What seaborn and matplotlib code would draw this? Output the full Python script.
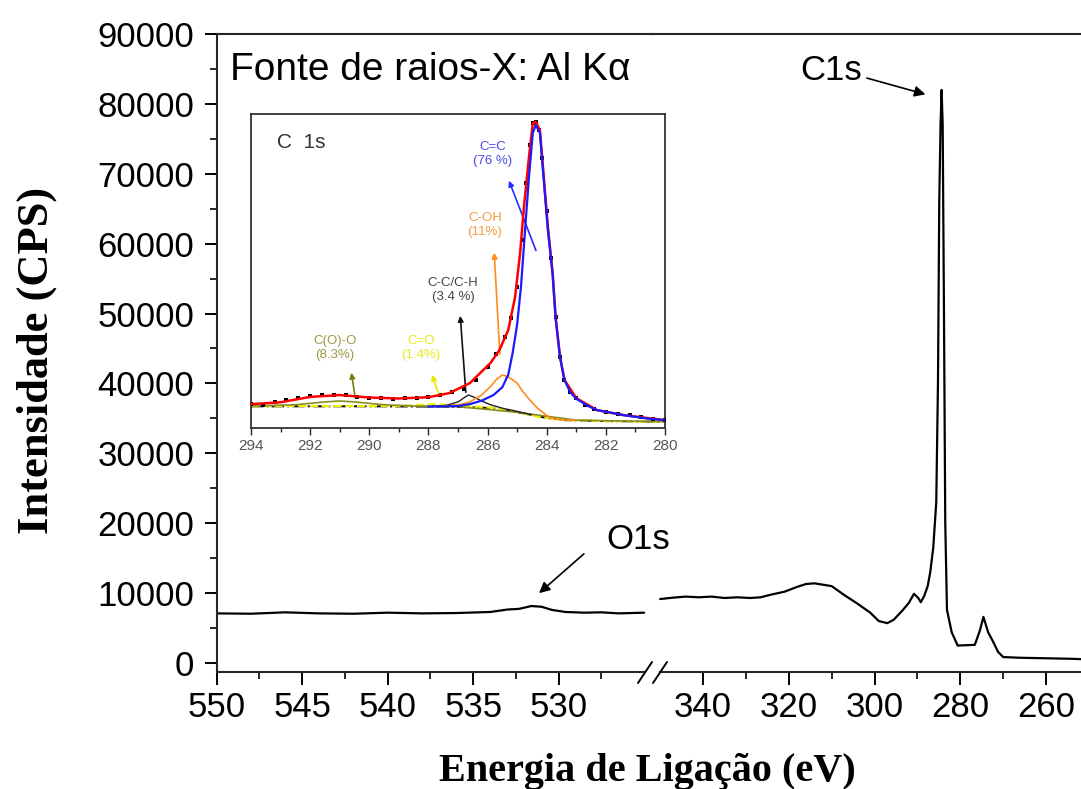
import matplotlib
matplotlib.use("Agg")
import matplotlib.pyplot as plt
import seaborn as sns
from matplotlib.lines import Line2D

# ---- main survey spectrum ----
# left segment, O 1s region
o_ev = [550, 548, 546, 544, 542, 540, 538, 536, 534, 533, 532.3, 531.6, 531.0, 530.4, 529.6, 528.5, 527.5, 526.5, 525.0]
o_cps = [7100, 7050, 7250, 7100, 7050, 7200, 7100, 7150, 7300, 7650, 7750, 8150, 8050, 7600, 7300, 7200, 7250, 7100, 7200]

# right segment, C 1s region
c_ev = [350, 347, 344, 341, 338, 335, 332, 329, 326.6, 324, 321, 318, 316, 314, 312, 310, 307, 304, 301, 299,
        297, 295.5, 293.5, 292, 290.8, 289.8, 289.2, 288.4, 287.6, 287.0, 286.3, 285.6, 285.2, 284.9, 284.6,
        284.35, 284.1, 283.8, 283.5, 283.1, 282.0, 280.6, 278.5, 276.6, 275.4, 274.6, 273.5, 272.3, 271.2,
        270.0, 266, 262, 258, 254, 251.8]
c_cps = [9150, 9350, 9500, 9400, 9500, 9300, 9400, 9300, 9400, 9800, 10200, 10900, 11300, 11400, 11200, 11000,
         9700, 8500, 7200, 6000, 5700, 6200, 7500, 8600, 9900, 9300, 8700, 9600, 11000, 13000, 16500, 23000,
         40000, 66000, 77000, 82000, 77000, 50000, 20000, 7600, 4400, 2500, 2550, 2600, 4700, 6600, 4400,
         3000, 1600, 850, 750, 700, 650, 600, 550]

y_ticks = [0, 10000, 20000, 30000, 40000, 50000, 60000, 70000, 80000, 90000]
left_xticks = [550, 545, 540, 535, 530]
right_xticks = [340, 320, 300, 280, 260]

# ---- inset: C 1s high resolution (arbitrary units, 0-100) ----
exp_ev = [294.0, 293.6, 293.2, 292.8, 292.4, 292.0, 291.6, 291.2, 290.8, 290.4, 290.0, 289.6, 289.2, 288.8,
          288.4, 288.0, 287.6, 287.2, 286.8, 286.4, 286.0, 285.7, 285.4, 285.2, 285.0, 284.85, 284.7, 284.55,
          284.45, 284.35, 284.25, 284.15, 284.0, 283.85, 283.7, 283.55, 283.4, 283.2, 283.0, 282.7, 282.4,
          282.0, 281.6, 281.2, 280.8, 280.4, 280.0]
exp_int = [7.6, 7.4, 8.3, 9.0, 9.6, 10.1, 10.5, 10.6, 10.4, 10.0, 9.6, 9.4, 9.3, 9.4, 9.6, 10.0, 10.6, 11.4,
           12.5, 15.3, 19.5, 23.5, 29.0, 35.0, 45.0, 60.0, 78.0, 90.0, 97.0, 97.5, 95.0, 86.0, 69.0, 54.0,
           35.4, 22.6, 15.3, 11.5, 9.5, 7.2, 6.0, 5.0, 4.5, 4.0, 3.4, 2.9, 2.5]

fit_ev = [294.0, 293.0, 292.0, 291.0, 290.0, 289.0, 288.0, 287.3, 286.6, 285.9, 285.6, 285.3, 285.07, 284.9,
          284.77, 284.6, 284.47, 284.37, 284.23, 284.1, 283.96, 283.8, 283.7, 283.55, 283.4, 283.0, 282.3,
          281.4, 280.0]
fit_int = [7.6, 8.2, 9.9, 10.5, 9.7, 9.4, 9.8, 11.1, 14.3, 20.7, 24.8, 31.2, 41.7, 55.7, 70.4, 86.3, 97.1,
           97.5, 94.9, 80.0, 64.0, 49.4, 35.4, 22.6, 15.3, 9.5, 5.7, 4.1, 2.5]

bg_ev = [294, 290, 287.5, 286.5, 285.8, 285.2, 284.6, 284.0, 283.4, 282, 280]
bg_int = [6.9, 6.9, 6.8, 6.6, 6.3, 5.4, 4.3, 3.2, 2.5, 2.2, 2.0]

co_ev = [294, 291, 289, 288.4, 287.8, 287.2, 286.5, 285.8, 285.0, 284.3, 283.5, 282, 280]
co_int = [7.0, 7.0, 7.0, 7.3, 7.6, 7.3, 6.9, 6.4, 5.1, 3.6, 2.6, 2.2, 2.0]

coo_ev = [294, 292.5, 291.5, 291.0, 290.5, 289.5, 288.5, 287, 285, 283, 280]
coo_int = [7.0, 7.4, 8.3, 8.6, 8.3, 7.4, 7.0, 6.8, 5.0, 2.5, 2.0]

cch_ev = [288.0, 287.4, 287.0, 286.8, 286.65, 286.5, 286.2, 285.9, 285.5, 285.0, 284.5]
cch_int = [6.8, 7.2, 8.3, 9.6, 10.5, 10.0, 8.6, 7.4, 6.3, 5.3, 4.2]

coh_ev = [287.6, 287.0, 286.6, 286.2, 285.9, 285.7, 285.5, 285.3, 285.0, 284.8, 284.57, 284.3, 284.1, 283.9,
          283.5, 283.0]
coh_int = [6.8, 7.3, 8.3, 10.5, 13.2, 15.5, 16.9, 16.3, 14.3, 11.5, 8.9, 6.2, 4.8, 3.2, 2.6, 2.4]

cc_ev = [288, 287.0, 286.6, 286.2, 285.8, 285.5, 285.3, 285.15, 285.0, 284.87, 284.74, 284.6, 284.47, 284.37,
         284.23, 284.1, 283.96, 283.8, 283.7, 283.55, 283.4, 283.2, 283.0, 282.6, 282.3, 281.4, 280.6, 280]
cc_int = [6.8, 7.0, 7.6, 8.7, 10.5, 13, 17, 24, 33, 45, 62, 80, 94, 96.5, 94, 79, 63, 49, 35, 22.6, 15.3,
          11.3, 9.3, 7.0, 5.7, 4.1, 3.0, 2.5]
inset_xticks = [294, 292, 290, 288, 286, 284, 282, 280]

sns.set_theme(style="ticks")
plt.rcParams["font.family"] = ["Liberation Sans", "DejaVu Sans"]
plt.rcParams["axes.linewidth"] = 1.5
plt.rcParams["text.color"] = "black"

W, H = 1081, 789
fig = plt.figure(figsize=(W / 100, H / 100), dpi=100)


def fx(px):
    return px / W


def fy(py):
    return 1 - py / H


# main axes: broken x axis
ax1 = fig.add_axes([fx(216.7), fy(671.7), fx(652) - fx(216.7), fy(34) - fy(671.7)])
ax2 = fig.add_axes([fx(652), fy(671.7), 1 - fx(652), fy(34) - fy(671.7)], sharey=ax1)
ax1.patch.set_visible(False)
ax2.patch.set_visible(False)

sns.lineplot(x=o_ev, y=o_cps, ax=ax1, color="black", lw=1.6, sort=False, estimator=None)
sns.lineplot(x=c_ev, y=c_cps, ax=ax2, color="black", lw=1.6, sort=False, estimator=None)

ax1.set_xlim(550, 524.54)
ax2.set_xlim(351.9, 251.84)
ax1.set_ylim(-1245, 90000)

ax1.spines["right"].set_visible(False)
ax2.spines["left"].set_visible(False)
ax2.spines["right"].set_visible(False)
ax1.spines["bottom"].set_bounds(550, 524.95)
ax2.spines["bottom"].set_bounds(350.1, 251.84)

ax1.set_yticks(y_ticks)
ax1.set_yticklabels([str(v) for v in y_ticks])
ax1.set_yticks([v + 5000 for v in y_ticks[:-1]], minor=True)
ax1.set_xticks(left_xticks)
ax1.set_xticklabels([str(v) for v in left_xticks])
ax1.set_xticks([v - 2.5 for v in left_xticks], minor=True)
ax2.set_xticks(right_xticks)
ax2.set_xticklabels([str(v) for v in right_xticks])
ax2.set_xticks([v + 10 for v in right_xticks[1:]], minor=True)
ax2.tick_params(axis="y", left=False, labelleft=False, which="both")

for ax in (ax1, ax2):
    ax.tick_params(which="major", direction="out", length=9, width=1.4, labelsize=25, colors="black", pad=5)
    ax.tick_params(which="minor", direction="out", length=5, width=1.4)
    ax.set_xlabel("")
    ax.set_ylabel("")
ax1.tick_params(axis="y", which="major", pad=7)

# axis break marks
for x0 in (638, 653):
    fig.add_artist(Line2D([fx(x0), fx(x0 + 14)], [fy(683), fy(662)], color="black", lw=1.4))

fig.text(fx(37), fy(360), "Intensidade (CPS)", rotation=90, ha="center", va="center",
         fontsize=32, fontweight="bold", family="Liberation Serif")
fig.text(fx(647), fy(772), "Energia de Ligação (eV)", ha="center", va="center",
         fontsize=29, fontweight="bold", family="Liberation Serif")
fig.text(fx(230), fy(70), "Fonte de raios-X: Al Kα", ha="left", va="center", fontsize=28)

# peak labels
ax2.text(310.1, 84835, "C1s", ha="center", va="center", fontsize=25)
ax2.annotate("", xy=(287.5, 81260), xytext=(302.4, 83800),
             arrowprops=dict(arrowstyle="-|>", color="black", lw=1.2, mutation_scale=16))
ax1.text(525.36, 17600, "O1s", ha="center", va="center", fontsize=25)
ax1.annotate("", xy=(531.27, 9730), xytext=(528.4, 15880),
             arrowprops=dict(arrowstyle="-|>", color="black", lw=1.2, mutation_scale=16))

# ---- inset ----
axi = fig.add_axes([fx(251), fy(428), fx(665) - fx(251), fy(114) - fy(428)])
sns.lineplot(x=bg_ev, y=bg_int, ax=axi, color="black", lw=1.4, linestyle="-.", sort=False, estimator=None)
sns.lineplot(x=co_ev, y=co_int, ax=axi, color="#f0f000", lw=1.6, linestyle="--", sort=False, estimator=None)
sns.lineplot(x=coo_ev, y=coo_int, ax=axi, color="#8c8c20", lw=1.2, sort=False, estimator=None)
sns.lineplot(x=cch_ev, y=cch_int, ax=axi, color="#202020", lw=1.0, sort=False, estimator=None)
sns.lineplot(x=coh_ev, y=coh_int, ax=axi, color="#ff8c1a", lw=1.2, sort=False, estimator=None)
sns.scatterplot(x=exp_ev, y=exp_int, ax=axi, color="black", marker="s", s=7, linewidth=0, zorder=3)
sns.lineplot(x=fit_ev, y=fit_int, ax=axi, color="red", lw=1.8, sort=False, estimator=None, zorder=4)
sns.lineplot(x=cc_ev, y=cc_int, ax=axi, color="#1a1aff", lw=1.6, sort=False, estimator=None, zorder=5)

axi.set_xlim(294, 280)
axi.set_ylim(0, 100)
axi.set_yticks([])
axi.set_xticks(inset_xticks)
axi.set_xticklabels([str(v) for v in inset_xticks])
axi.set_xticks([v - 1 for v in inset_xticks[:-1]], minor=True)
axi.tick_params(which="major", direction="out", length=5, width=1.0, labelsize=11, labelcolor="#555555", pad=3)
axi.tick_params(which="minor", direction="out", length=3, width=1.0)
axi.set_xlabel("")
axi.set_ylabel("")
for sp in axi.spines.values():
    sp.set_linewidth(1.3)
    sp.set_color("#333333")

axi.text(292.31, 90.8, "C  1s", ha="center", va="center", fontsize=15, color="#333333")

labels = [
    ("C=C\n(76 %)", 285.82, 87.3, "#4a4ae6", (285.31, 79.6), (284.33, 55.7), "#2a2aff"),
    ("C-OH\n(11%)", 286.09, 64.6, "#f59a45", (285.78, 56.7), (285.58, 22.6), "#ff8c1a"),
    ("C-C/C-H\n(3.4 %)", 287.17, 43.9, "#444444", (286.93, 36.6), (286.73, 10.5), "#111111"),
    ("C(O)-O\n(8.3%)", 291.16, 25.5, "#9a9a45", (290.62, 18.5), (290.48, 9.9), "#7a7a10"),
    ("C=O\n(1.4%)", 288.25, 25.5, "#e8e820", (287.91, 17.8), (287.61, 9.6), "#e8e800"),
]
for txt, x, y, tc, head, tail, ac in labels:
    axi.text(x, y, txt, ha="center", va="center", fontsize=9.5, color=tc, linespacing=1.25)
    axi.annotate("", xy=head, xytext=tail,
                 arrowprops=dict(arrowstyle="-|>", color=ac, lw=1.2, mutation_scale=8))

fig.savefig("out.png", dpi=100)
